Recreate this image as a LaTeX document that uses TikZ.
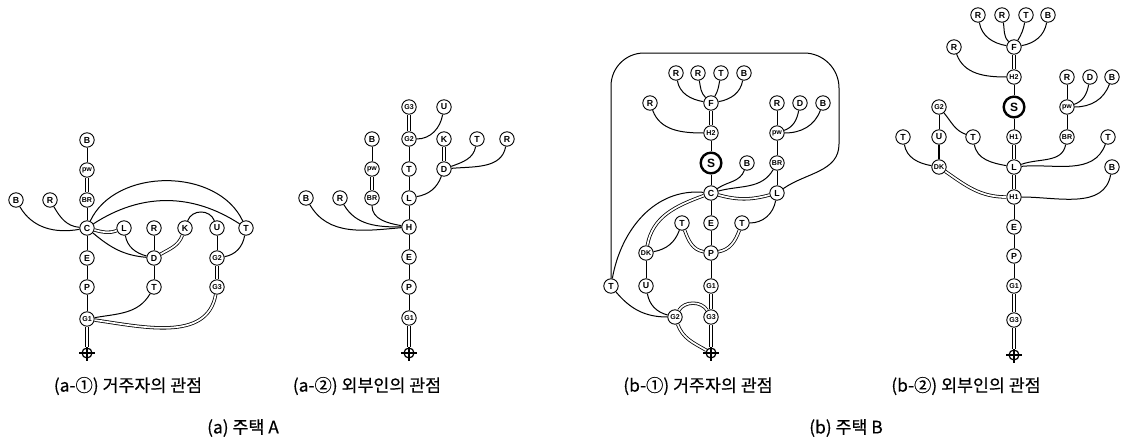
\documentclass[tikz,border=0pt]{standalone}
\usepackage{fontspec}
\newfontfamily\lblfont{Liberation Sans}
\newfontfamily\krfont[FakeBold=0.4]{Noto Sans CJK KR}
\tikzset{
 nd/.style={circle, draw, line width=0.7pt, minimum size=10.8pt, inner sep=0pt, fill=white, font=\lblfont\bfseries\fontsize{6.6}{6.6}\selectfont},
 nd2/.style={nd, font=\lblfont\bfseries\fontsize{5.3}{5.3}\selectfont},
 snode/.style={circle, draw, line width=1.8pt, minimum size=15.5pt, inner sep=0pt, font=\lblfont\bfseries\fontsize{9}{9}\selectfont},
 ln/.style={line width=0.75pt},
 thk/.style={line width=1.2pt},
 dl/.style={double, double distance=1.3pt, line width=0.6pt},
 entr/.style={circle, draw, line width=0.9pt, minimum size=7.5pt, inner sep=0pt},
 captxt/.style={font=\krfont\fontsize{13}{13}\selectfont, inner sep=0pt},
}
\newcommand{\entsym}[2]{%
 \node[entr] (#1) at (#2) {};
 \draw[line width=0.9pt] ([yshift=1.6pt]#1.north) -- ([yshift=-1.6pt]#1.south) ([xshift=-1.6pt]#1.west) -- ([xshift=1.6pt]#1.east);
}
\begin{document}
\begin{tikzpicture}[x=0.75pt, y=0.75pt]
\useasboundingbox (0,0) rectangle (1121,444);
% ===== (a-1) =====
\node[nd] (aB1) at (87,304) {B};
\node[nd2] (apw) at (87,274) {pw};
\node[nd2] (aBR) at (87,244) {BR};
\node[nd] (aBl) at (16,244) {B};
\node[nd] (aR1) at (50,244) {R};
\node[nd] (aC) at (87,216) {C};
\node[nd] (aL) at (124,216) {L};
\node[nd] (aR2) at (154,216) {R};
\node[nd] (aK) at (185,216) {K};
\node[nd] (aU) at (217,216) {U};
\node[nd] (aT1) at (246,216) {T};
\node[nd] (aE) at (87,186) {E};
\node[nd] (aD) at (154,186) {D};
\node[nd2] (aG2) at (217,186) {G2};
\node[nd] (aP) at (87,157) {P};
\node[nd] (aT2) at (154,157) {T};
\node[nd2] (aG3) at (217,157) {G3};
\node[nd2] (aG1) at (87,125) {G1};
\entsym{aent}{87,91}
\draw[ln] (aB1) -- (apw);
\draw[dl] (apw) -- (aBR);
\draw[ln] (aBR) -- (aC);
\draw[ln] (aC) -- (aE);
\draw[ln] (aE) -- (aP);
\draw[ln] (aP) -- (aG1);
\draw[dl] (aG1) -- (aent);
\draw[ln] (aBl) to[out=-60, in=190] (aC);
\draw[ln] (aR1) to[out=-60, in=175] (aC);
\draw[dl] (aC) to[out=-15, in=200] (aL);
\draw[ln] (aC) to[out=65, in=115] (aT1);
\draw[ln] (aC) to[out=33, in=147] (aT1);
\draw[ln] (aC) to[out=-40, in=175] (aD);
\draw[ln] (aL) to[out=-80, in=165] (aD);
\draw[ln] (aR2) -- (aD);
\draw[dl] (aK) to[out=-110, in=30] (aD);
\draw[ln] (aK) to[out=70, in=110, looseness=1.2] (aU);
\draw[ln] (aU) -- (aG2);
\draw[ln] (aT1) to[out=-100, in=10] (aG2);
\draw[dl] (aG2) -- (aG3);
\draw[ln] (aD) -- (aT2);
\draw[ln] (aT2) to[out=-120, in=10] (aG1);
\draw[dl] (aG3) to[out=-100, in=-8] (aG1);
% ===== (a-2) =====
\node[nd2] (bG3) at (409,337) {G3};
\node[nd] (bU) at (444,337) {U};
\node[nd] (bB1) at (372,305) {B};
\node[nd2] (bG2) at (409,305) {G2};
\node[nd] (bK) at (444,305) {K};
\node[nd] (bT1) at (477,305) {T};
\node[nd] (bR1) at (507,305) {R};
\node[nd2] (bpw) at (372,275) {pw};
\node[nd] (bT2) at (409,275) {T};
\node[nd] (bD) at (444,275) {D};
\node[nd] (bB2) at (306,246) {B};
\node[nd] (bR2) at (340,246) {R};
\node[nd2] (bBR) at (372,246) {BR};
\node[nd] (bL) at (409,246) {L};
\node[nd] (bH) at (409,217) {H};
\node[nd] (bE) at (409,187) {E};
\node[nd] (bP) at (409,157) {P};
\node[nd2] (bG1) at (409,126) {G1};
\entsym{bent}{409,91}
\draw[dl] (bG3) -- (bG2);
\draw[ln] (bU) to[out=-100, in=0] (bG2);
\draw[ln] (bG2) -- (bT2);
\draw[ln] (bT2) -- (bL);
\draw[ln] (bL) -- (bH);
\draw[ln] (bH) -- (bE);
\draw[ln] (bE) -- (bP);
\draw[ln] (bP) -- (bG1);
\draw[dl] (bG1) -- (bent);
\draw[ln] (bB1) -- (bpw);
\draw[dl] (bpw) -- (bBR);
\draw[ln] (bBR) to[out=-90, in=170] (bH);
\draw[ln] (bB2) to[out=-60, in=185] (bH);
\draw[ln] (bR2) to[out=-60, in=180] (bH);
\draw[dl] (bK) -- (bD);
\draw[ln] (bT1) to[out=-100, in=20] (bD);
\draw[ln] (bR1) to[out=-100, in=5] (bD);
\draw[ln] (bD) to[out=-110, in=10] (bL);
% ===== (b-1) =====
\node[nd] (cR1) at (676,371) {R};
\node[nd] (cR2) at (698,371) {R};
\node[nd] (cT1) at (721,371) {T};
\node[nd] (cB1) at (744,371) {B};
\node[nd] (cR3) at (650,341) {R};
\node[nd] (cF) at (711,341) {F};
\node[nd] (cR4) at (777,341) {R};
\node[nd] (cD1) at (800,341) {D};
\node[nd] (cB2) at (823,341) {B};
\node[nd2] (cH2) at (711,311) {H2};
\node[nd2] (cpw) at (777,311) {pw};
\node[snode] (cS) at (711,281) {S};
\node[nd] (cB3) at (747,281) {B};
\node[nd2] (cBR) at (777,281) {BR};
\node[nd] (cC) at (711,251) {C};
\node[nd] (cL) at (777,251) {L};
\node[nd] (cT2) at (682,221) {T};
\node[nd] (cE) at (711,221) {E};
\node[nd] (cT3) at (742,221) {T};
\node[nd2] (cDK) at (646,191) {DK};
\node[nd] (cP) at (711,191) {P};
\node[nd] (cT4) at (611,158) {T};
\node[nd] (cU) at (646,158) {U};
\node[nd2] (cG1) at (711,158) {G1};
\node[nd2] (cG2) at (675,127) {G2};
\node[nd2] (cG3) at (711,127) {G3};
\entsym{cent}{711,91}
\draw[ln] (cR1) to[out=-80, in=170] (cF);
\draw[ln] (cR2) to[out=-80, in=135] (cF);
\draw[ln] (cT1) to[out=-100, in=60] (cF);
\draw[ln] (cB1) to[out=-100, in=10] (cF);
\draw[ln] (cR3) to[out=-70, in=180] (cH2);
\draw[dl] (cF) -- (cH2);
\draw[ln] (cH2) -- (cS);
\draw[ln] (cS) -- (cC);
\draw[ln] (cC) -- (cE);
\draw[ln] (cE) -- (cP);
\draw[ln] (cP) -- (cG1);
\draw[dl] (cG1) -- (cG3);
\draw[dl] (cG3) -- (cent);
\draw[ln] (cR4) -- (cpw);
\draw[ln] (cD1) to[out=-100, in=20] (cpw);
\draw[ln] (cB2) to[out=-110, in=0] (cpw);
\draw[ln] (cpw) -- (cBR);
\draw[ln] (cBR) -- (cL);
\draw[ln] (cBR) to[out=-120, in=15] (cC);
\draw[ln] (cB3) to[out=-110, in=35] (cC);
\draw[dl] (cC) to[out=-15, in=195] (cL);
\draw[ln] (cL) to[out=-100, in=0] (cT3);
\draw[dl] (cC) to[out=200, in=80] (cDK);
\draw[ln] (cC) to[out=175, in=80] (cT4);
\draw[dl] (cT2) to[out=-70, in=170] (cP);
\draw[dl] (cT3) to[out=-110, in=10] (cP);
\draw[ln] (cT2) to[out=-110, in=10] (cDK);
\draw[ln] (cDK) -- (cU);
\draw[ln] (cU) to[out=-80, in=165] (cG2);
\draw[ln] (cT4) to[out=-50, in=180] (cG2);
\draw[dl] (cG2) to[out=60, in=120] (cG3);
\draw[dl] (cG2) to[out=-70, in=150] (cent);
\draw[ln] (cT4) -- (611,358) arc[start angle=180, end angle=90, radius=33] -- (804,391) arc[start angle=90, end angle=0, radius=35] -- (839,300) to[out=-90, in=35] (cL);
% ===== (b-2) =====
\node[nd] (dR1) at (978,429) {R};
\node[nd] (dR2) at (1002,429) {R};
\node[nd] (dT1) at (1026,429) {T};
\node[nd] (dB1) at (1048,429) {B};
\node[nd] (dR3) at (954,397) {R};
\node[nd] (dF) at (1014,397) {F};
\node[nd2] (dH2) at (1014,367) {H2};
\node[nd] (dR4) at (1067,367) {R};
\node[nd] (dD1) at (1090,367) {D};
\node[nd] (dB2) at (1112,367) {B};
\node[nd2] (dG2) at (939,337) {G2};
\node[snode] (dS) at (1014,337) {S};
\node[nd2] (dpw) at (1067,337) {pw};
\node[nd] (dT2) at (903,307) {T};
\node[nd] (dU) at (939,307) {U};
\node[nd] (dT3) at (973,307) {T};
\node[nd2] (dH1a) at (1014,307) {H1};
\node[nd2] (dBR) at (1067,307) {BR};
\node[nd] (dT4) at (1108,307) {T};
\node[nd2] (dDK) at (939,277) {DK};
\node[nd] (dL) at (1014,277) {L};
\node[nd] (dB3) at (1112,277) {B};
\node[nd2] (dH1b) at (1014,247) {H1};
\node[nd] (dE) at (1014,217) {E};
\node[nd] (dP) at (1014,188) {P};
\node[nd2] (dG1) at (1014,158) {G1};
\node[nd2] (dG3) at (1014,124) {G3};
\entsym{dent}{1014,89}
\draw[ln] (dR1) to[out=-80, in=170] (dF);
\draw[ln] (dR2) to[out=-80, in=135] (dF);
\draw[ln] (dT1) to[out=-100, in=60] (dF);
\draw[ln] (dB1) to[out=-100, in=10] (dF);
\draw[ln] (dR3) to[out=-70, in=180] (dH2);
\draw[dl] (dF) -- (dH2);
\draw[ln] (dH2) -- (dS);
\draw[ln] (dS) -- (dH1a);
\draw[dl] (dH1a) -- (dL);
\draw[dl] (dL) -- (dH1b);
\draw[ln] (dH1b) -- (dE);
\draw[ln] (dE) -- (dP);
\draw[ln] (dP) -- (dG1);
\draw[dl] (dG1) -- (dG3);
\draw[dl] (dG3) -- (dent);
\draw[ln] (dR4) -- (dpw);
\draw[ln] (dD1) to[out=-100, in=20] (dpw);
\draw[ln] (dB2) to[out=-110, in=0] (dpw);
\draw[ln] (dpw) -- (dBR);
\draw[ln] (dBR) to[out=-100, in=20] (dL);
\draw[ln] (dT4) to[out=-110, in=5] (dL);
\draw[ln] (dT3) to[out=-80, in=170] (dL);
\draw[ln] (dG2) -- (dU);
\draw[ln] (dG2) to[out=-50, in=160] (dT3);
\draw[thk] (dU) -- (dDK);
\draw[ln] (dT2) to[out=-80, in=170] (dDK);
\draw[dl] (dDK) to[out=-35, in=180] (dH1b);
\draw[ln] (dB3) to[out=-100, in=0] (dH1b);
% ===== captions =====
\node[captxt] (capa1) at (128,58) {(a-①) 거주자의 관점};
\node[captxt] (capa2) at (367,58) {(a-②) 외부인의 관점};
\node[captxt] (capb1) at (698,58) {(b-①) 거주자의 관점};
\node[captxt] (capb2) at (966,58) {(b-②) 외부인의 관점};
\node[captxt] (capa) at (243,16) {(a) 주택 A};
\node[captxt] (capb) at (846,16) {(b) 주택 B};
\end{tikzpicture}
\end{document}
